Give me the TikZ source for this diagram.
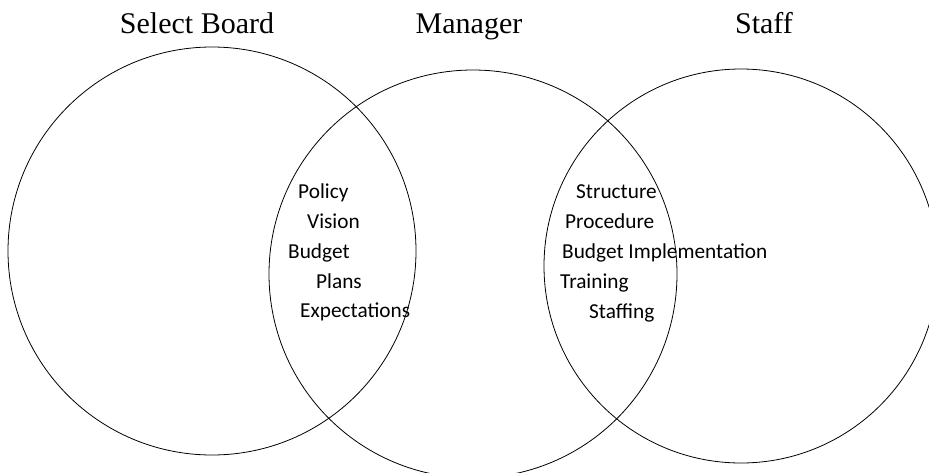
\documentclass[tikz,border=0pt]{standalone}
\usepackage{fontspec}
\setmainfont{Liberation Serif}
\newfontfamily\calfont{Carlito}
\begin{document}
\begin{tikzpicture}[x=1pt,y=-1pt,
  ring/.style={circle,draw=black,line width=0.8pt,inner sep=0pt,outer sep=0pt},
  title/.style={anchor=base,inner sep=0pt,font=\fontsize{30}{32}\selectfont},
  item/.style={anchor=base west,inner sep=0pt,font=\calfont\fontsize{21.3}{23}\selectfont}]
\useasboundingbox (0,0) rectangle (929,472);
\clip (0,0) rectangle (929,472);
\fill[white] (0,0) rectangle (929,472);
\node[ring,minimum size=408pt] (board) at (212,251) {};
\node[ring,minimum size=408pt] (manager) at (473,274) {};
\node[ring,minimum size=394pt] (staff) at (741,266) {};
\node[title] (tb) at (197,33) {Select Board};
\node[title] (tm) at (469,33) {Manager};
\node[title] (ts) at (764,33) {Staff};
\node[item] (policy) at (298,198) {Policy};
\node[item] (vision) at (307,228) {Vision};
\node[item] (budget) at (288,258) {Budget};
\node[item] (plans) at (316,288) {Plans};
\node[item] (expect) at (300,317) {Expectations};
\node[item] (struct) at (576,198) {Structure};
\node[item] (proc) at (565,228) {Procedure};
\node[item] (bimpl) at (562,258) {Budget Implementation};
\node[item] (train) at (560,288) {Training};
\node[item] (stfng) at (589,318) {Staffing};
\end{tikzpicture}
\end{document}
